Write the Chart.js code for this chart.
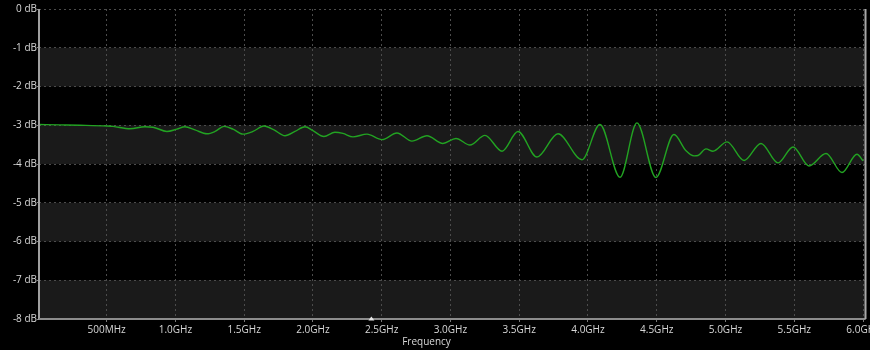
<!DOCTYPE html>
<html><head><meta charset="utf-8">
<script src="https://cdn.jsdelivr.net/npm/chart.js@4/dist/chart.umd.min.js"></script>
<style>html,body{margin:0;padding:0;background:#000;overflow:hidden;}</style>
</head><body>
<canvas id="c" width="870" height="350"></canvas>
<script>
// ---- data ----
const freqMHz = [10,160,306,502,546,670,779,837,938,1011,1069,1142,1229,1288,1353,1418,1491,1564,1644,1717,1797,1869,1942,2000,2080,2160,2218,2291,2393,2502,2611,2720,2829,2945,3040,3142,3251,3375,3491,3629,3782,3956,4087,4233,4356,4494,4625,4713,4771,4800,4858,4909,5011,5135,5258,5382,5491,5607,5731,5847,5956,6000];
const gainDb = [-2.98,-2.99,-3.00,-3.02,-3.03,-3.09,-3.04,-3.05,-3.16,-3.10,-3.04,-3.12,-3.22,-3.16,-3.03,-3.10,-3.23,-3.16,-3.02,-3.12,-3.27,-3.16,-3.04,-3.14,-3.29,-3.18,-3.21,-3.30,-3.23,-3.37,-3.20,-3.41,-3.27,-3.47,-3.34,-3.51,-3.26,-3.67,-3.16,-3.82,-3.22,-3.89,-2.98,-4.34,-2.94,-4.35,-3.24,-3.66,-3.79,-3.78,-3.61,-3.67,-3.43,-3.91,-3.47,-3.97,-3.56,-4.05,-3.73,-4.22,-3.75,-3.92];
const xTickValues = [500,1000,1500,2000,2500,3000,3500,4000,4500,5000,5500,6000];
const xTickLabels = ['500MHz','1.0GHz','1.5GHz','2.0GHz','2.5GHz','3.0GHz','3.5GHz','4.0GHz','4.5GHz','5.0GHz','5.5GHz','6.0GHz'];
const yTickValues = [0,-1,-2,-3,-4,-5,-6,-7,-8];
const yTickLabels = ['0 dB','-1 dB','-2 dB','-3 dB','-4 dB','-5 dB','-6 dB','-7 dB','-8 dB'];
const shadedBands = [[-1,-2],[-3,-4],[-5,-6],[-7,-8]];
const markerMHz = [2425];
const xAxisTitle = 'Frequency';

const points = freqMHz.map((f,i)=>({x:f,y:gainDb[i]}));

Chart.defaults.font.family = '"Open Sans", "Noto Sans", sans-serif';
Chart.defaults.font.size = 10;
Chart.defaults.color = '#d8d8d8';

const bgPlugin = {
  id:'bg',
  beforeDraw(chart){
    const {ctx, chartArea:a, scales:{y}} = chart;
    ctx.save();
    ctx.fillStyle = '#000';
    ctx.fillRect(0,0,chart.width,chart.height);
    ctx.fillStyle = '#1a1a1a';
    shadedBands.forEach(([t,b])=>{
      const y1 = y.getPixelForValue(t), y2 = y.getPixelForValue(b);
      ctx.fillRect(a.left, y1, a.right-a.left, y2-y1);
    });
    ctx.restore();
  },
  afterDraw(chart){
    const {ctx, chartArea:a, scales:{x}} = chart;
    ctx.save();
    ctx.setLineDash([]);
    ctx.lineWidth = 2;
    ctx.strokeStyle = '#a0a0a0';
    ctx.beginPath(); ctx.moveTo(a.left, a.top); ctx.lineTo(a.left, a.bottom+1); ctx.stroke();
    ctx.strokeStyle = '#8c8c8c';
    ctx.beginPath(); ctx.moveTo(a.left, a.bottom); ctx.lineTo(a.right, a.bottom); ctx.stroke();
    ctx.strokeStyle = '#a8a8a8';
    ctx.beginPath(); ctx.moveTo(a.right, a.top); ctx.lineTo(a.right, a.bottom); ctx.stroke();
    ctx.fillStyle = '#e6e6e6';
    markerMHz.forEach(m=>{
      const px = x.getPixelForValue(m);
      ctx.beginPath();
      ctx.moveTo(px, a.bottom-2.5);
      ctx.lineTo(px+3, a.bottom+1.5);
      ctx.lineTo(px-3, a.bottom+1.5);
      ctx.closePath();
      ctx.fill();
    });
    // axis title (the reference places it left of the plot centre)
    ctx.font = '10px "Open Sans", "Noto Sans", sans-serif';
    ctx.fillStyle = '#d8d8d8';
    ctx.textAlign = 'center';
    ctx.textBaseline = 'middle';
    ctx.fillText(xAxisTitle, 426.5, 342.5);
    ctx.restore();
  }
};

new Chart(document.getElementById('c'), {
  type:'line',
  data:{datasets:[{
    data:points,
    borderColor:'#22a322',
    borderWidth:1.4,
    pointRadius:0,
    fill:false,
    cubicInterpolationMode:'monotone'
  }]},
  options:{
    responsive:false,
    animation:false,
    layout:{padding:{top:9,right:4.5,left:0,bottom:0}},
    plugins:{legend:{display:false},tooltip:{enabled:false}},
    scales:{
      x:{
        type:'linear',
        min:8, max:6018,
        afterBuildTicks(s){ s.ticks = xTickValues.map(v=>({value:v})); },
        afterFit(s){ s.height = 31; s.paddingLeft = 0; s.paddingRight = 0; },
        ticks:{
          maxRotation:0, autoSkip:false, padding:2,
          callback(v){ const i = xTickValues.indexOf(v); return i>=0 ? xTickLabels[i] : ''; }
        },
        grid:{color:'#4c4c4c', lineWidth:1, tickLength:3, tickColor:'#777'},
        border:{display:false, dash:[2,3]},
        title:{display:false}
      },
      y:{
        type:'linear',
        min:-8, max:0,
        afterBuildTicks(s){ s.ticks = yTickValues.map(v=>({value:v})); },
        afterFit(s){ s.width = 39; },
        ticks:{
          padding:0, autoSkip:false,
          callback(v){ const i = yTickValues.indexOf(v); return i>=0 ? yTickLabels[i] : ''; }
        },
        grid:{color:'#4c4c4c', lineWidth:1, tickLength:2, tickColor:'#888'},
        border:{display:false, dash:[2,3]}
      }
    }
  },
  plugins:[bgPlugin]
});
</script>
</body></html>
